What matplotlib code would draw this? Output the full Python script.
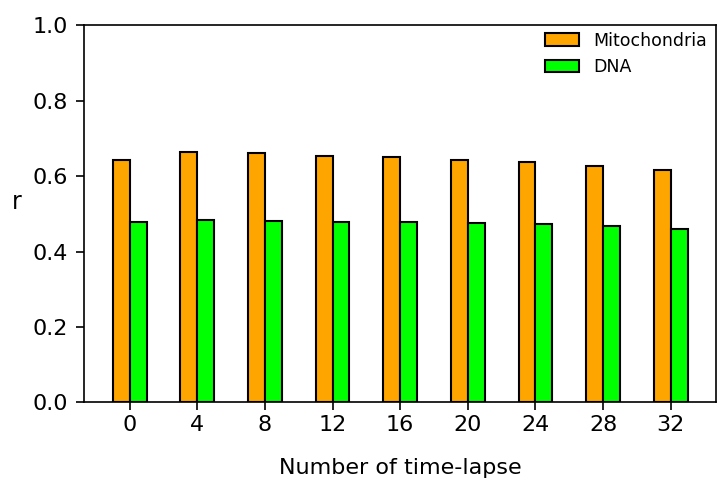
import numpy as np
import matplotlib
matplotlib.use("Agg")
import matplotlib.pyplot as plt

time_points = ["0", "4", "8", "12", "16", "20", "24", "28", "32"]
mitochondria = [0.643, 0.664, 0.661, 0.654, 0.652, 0.642, 0.637, 0.627, 0.617]
dna = [0.478, 0.483, 0.481, 0.478, 0.478, 0.476, 0.474, 0.469, 0.461]

fig = plt.figure(figsize=(7.21, 4.80), dpi=100)
ax = fig.add_axes([0.1165, 0.162, 0.877, 0.785])

x = np.arange(len(time_points))
w = 0.25
ax.bar(x - w / 2, mitochondria, w, color="orange", edgecolor="black", linewidth=1.5, label="Mitochondria")
ax.bar(x + w / 2, dna, w, color="lime", edgecolor="black", linewidth=1.5, label="DNA")

ax.set_ylim(0, 1.0)
ax.set_xticks(x)
ax.set_xticklabels(time_points)
ax.tick_params(labelsize=16, length=6, width=1.2)
ax.tick_params(axis="y", pad=5.5)
for s in ax.spines.values():
    s.set_linewidth(1.2)
ax.set_xlabel("Number of time-lapse", fontsize=16, labelpad=16)
ax.set_ylabel("r", fontsize=17, rotation=0, ha="center", va="center")
ax.yaxis.set_label_coords(-0.107, 0.532)
ax.legend(fontsize=12.5, frameon=False, loc="upper right",
          bbox_to_anchor=(1.01, 1.025))

fig.savefig("out.png", dpi=100)
